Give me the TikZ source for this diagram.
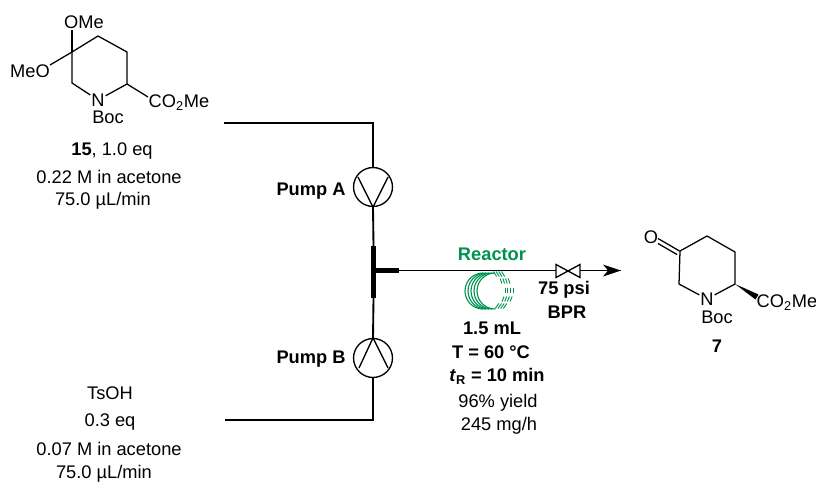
\documentclass[tikz,border=0pt]{standalone}
\usepackage{fontspec}
\setmainfont{Liberation Sans}
\definecolor{reactorgreen}{RGB}{0,146,80}
\tikzset{
 line/.style={line width=1.4pt},
 bond/.style={line width=0.95pt},
 atom/.style={inner sep=0.6pt, font=\fontsize{13.7}{15}\selectfont},
 txt/.style={inner sep=0pt, font=\fontsize{13.7}{15}\selectfont},
 boldtxt/.style={txt, font=\fontsize{13.7}{15}\selectfont\bfseries},
 pump/.style={draw, circle, line width=1pt, minimum size=29.2pt, inner sep=0pt},
 coil/.style={reactorgreen, line width=0.85pt},
}
\begin{document}
\begin{tikzpicture}[x=0.75pt, y=-0.75pt]
 \useasboundingbox (0,0) rectangle (816,482);

 % Substrate ring
 \coordinate (q1) at (72,52);
 \coordinate (a2) at (98,36);
 \coordinate (a3) at (127,52);
 \coordinate (a4) at (127,84);
 \coordinate (a6) at (72,83);
 \coordinate (oend) at (72,30);
 \coordinate (meoend) at (50,65);
 \coordinate (coend) at (148,97);
 \node[atom] (n1) at (98,100) {N};
 \node[atom] (ome) at (84,22) {OMe};
 \node[atom] (meo) at (30,71) {MeO};
 \node[atom] (co1) at (179,103) {CO\textsubscript{2}Me};
 \node[atom] (boc1) at (108,117) {Boc};
 \draw[bond] (q1) -- (a2) -- (a3) -- (a4) -- (n1) -- (a6) -- (q1);
 \draw[bond] (q1) -- (oend);
 \draw[bond] (q1) -- (meoend);
 \draw[bond] (a4) -- (coend);

 % Feed labels
 \node[txt] (f1) at (112,151.5) {\textbf{15}, 1.0 eq};
 \node[txt] (f2) at (109,177) {0.22 M in acetone};
 \node[txt] (f3) at (103,201) {75.0 µL/min};
 \node[txt] (g1) at (110,393) {TsOH};
 \node[txt] (g2) at (110,422) {0.3 eq};
 \node[txt] (g3) at (109,449) {0.07 M in acetone};
 \node[txt] (g4) at (104,474) {75.0 µL/min};

 % Pumps
 \node[pump] (pa) at (373,187) {};
 \node[pump] (pb) at (373,358) {};
 \node[boldtxt] (la) at (311,191) {Pump A};
 \node[boldtxt] (lb) at (311,359) {Pump B};
 \coordinate (pa1) at (358,177);
 \coordinate (pa2) at (388,177);
 \coordinate (pb1) at (359,368);
 \coordinate (pb2) at (388,368);
 \draw[line width=1pt] (pa1) -- (pa.south) -- (pa2);
 \draw[line width=1pt] (pb1) -- (pb.north) -- (pb2);

 % Feed lines
 \coordinate (s1) at (224,123);
 \coordinate (s2) at (225,420);
 \coordinate (t1) at (373.5,246);
 \coordinate (t2) at (373.5,298);
 \coordinate (t3) at (399,270.5);
 \coordinate (tm) at (373.5,270.5);
 \draw[line] (s1) -| (pa.north);
 \draw[line] (s2) -| (pb.south);
 \draw[line] (pa.south) -- (t1);
 \draw[line] (pb.north) -- (t2);
 \draw[line width=3.8pt] (t1) -- (t2);
 \draw[line width=3.4pt] (tm) -- (t3);

 % Valve and outlet
 \coordinate (v1) at (556,270.5);
 \coordinate (v2) at (580,270.5);
 \coordinate (v3) at (621,270.5);
 \draw[line] (t3) -- (v1);
 \draw[line width=1pt, line join=miter] (v1 |- 0,264.5) -- (v2 |- 0,277.5) -- (v2 |- 0,264.5) -- (v1 |- 0,277.5) -- cycle;
 \draw[line] (v2) -- (v3);
 \fill (v3) -- (603,264.5) -- (608,270.5) -- (603,276.5) -- cycle;

 % Reactor coil
 \node[boldtxt, text=reactorgreen] (rl) at (492,254) {Reactor};
 \foreach \i in {0,...,4} {
  \draw[coil] ({483+\i*3},309) arc[start angle=90, end angle=270, x radius=18, y radius=18];
 }
 \foreach \x/\y/\s in {495/274/-1.6, 501/281/-0.9, 505/290/0, 503/299/1, 497/306/1.8} {
  \foreach \k in {0,...,3} {
   \draw[reactorgreen, line width=0.7pt] ({\x+\k*2.7+\s},{\y-2.5}) -- ({\x+\k*2.7-\s},{\y+2.5});
  }
 }

 % Reactor labels
 \node[boldtxt] (r1) at (492,328) {1.5 mL};
 \node[boldtxt] (r2) at (491,352) {T = 60 °C};
 \node[boldtxt] (r3) at (497,376) {\textit{t}\textsubscript{R} = 10 min};
 \node[txt] (r4) at (498,403) {96\% yield};
 \node[txt] (r5) at (499,426) {245 mg/h};
 \node[boldtxt] (b1) at (564,290) {75 psi};
 \node[boldtxt] (b2) at (567,312) {BPR};

 % Product ring
 \coordinate (c1) at (680,251);
 \coordinate (c2) at (707,236);
 \coordinate (c3) at (735,252);
 \coordinate (c4) at (735,284);
 \coordinate (c6) at (679,284);
 \coordinate (wa) at (755.5,299.5);
 \coordinate (wb) at (758.5,294.5);
 \coordinate (d1) at (658,238.5);
 \coordinate (d2) at (679.5,251);
 \coordinate (d3) at (658,243.5);
 \coordinate (d4) at (677,254.5);
 \node[atom] (n2) at (707,299) {N};
 \node[atom] (o2) at (651,237) {O};
 \node[atom] (co2) at (787,303) {CO\textsubscript{2}Me};
 \node[atom] (boc2) at (717,317) {Boc};
 \node[boldtxt] (p7) at (717,346) {7};
 \draw[bond] (c1) -- (c2) -- (c3) -- (c4) -- (n2) -- (c6) -- (c1);
 \draw[bond] (d1) -- (d2);
 \draw[bond] (d3) -- (d4);
 \fill (c4) -- (wa) -- (wb) -- cycle;
\end{tikzpicture}
\end{document}
